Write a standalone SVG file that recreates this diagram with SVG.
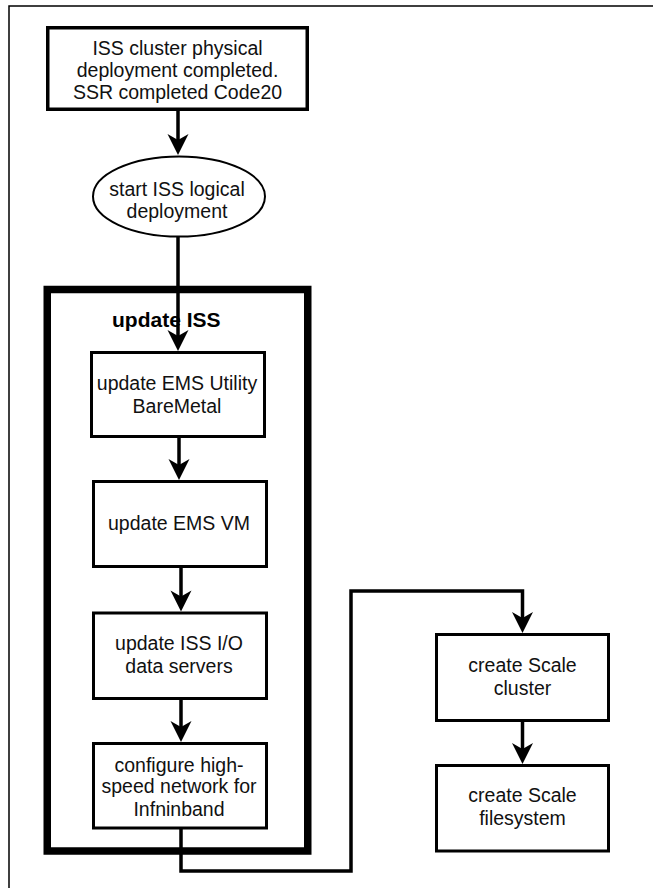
<svg xmlns="http://www.w3.org/2000/svg" width="653" height="888" viewBox="0 0 653 888">
  <style>
    .box { fill: #fff; stroke: #000; stroke-width: 3; }
    .t { font-family: "Liberation Sans", Arial, Helvetica, sans-serif; font-size: 19.5px; fill: #111; text-anchor: middle; }
    .tb { font-family: "Liberation Sans", Arial, Helvetica, sans-serif; font-size: 21px; font-weight: bold; fill: #000; }
    .conn { fill: none; stroke: #000; stroke-width: 3.5; }
  </style>
  <defs>
    <marker id="arr" markerUnits="userSpaceOnUse" viewBox="-22 -12 24 24" markerWidth="24" markerHeight="24" refX="-10" refY="0" orient="auto">
      <path d="M0,0 L-21,-10.5 L-15,0 L-21,10.5 Z" fill="#000"/>
    </marker>
  </defs>
  <rect x="0" y="0" width="653" height="888" fill="#fff"/>
  <g id="frame">
    <path d="M9,888 V6 H653" fill="none" stroke="#000" stroke-width="1.5"/>
  </g>
  <g id="container-update-iss">
    <rect x="47.25" y="289.5" width="260.5" height="561.5" fill="none" stroke="#000" stroke-width="7.5"/>
    <text class="tb" x="112" y="327">update ISS</text>
  </g>
  <g id="connectors">
    <path class="conn" d="M178,111 V145" marker-end="url(#arr)"/>
    <path class="conn" d="M178,237 V341" marker-end="url(#arr)"/>
    <path class="conn" d="M179,438 V470" marker-end="url(#arr)"/>
    <path class="conn" d="M181,568 V601.5" marker-end="url(#arr)"/>
    <path class="conn" d="M181,700 V732" marker-end="url(#arr)"/>
    <path class="conn" stroke-width="3" d="M181,829 V871 H351 V591 H522.5 V623" marker-end="url(#arr)"/>
    <path class="conn" d="M522.5,722 V754" marker-end="url(#arr)"/>
  </g>
  <g id="node-physical">
    <rect x="47.75" y="27.75" width="259.5" height="81.5" fill="#fff" stroke="#000" stroke-width="3.5"/>
    <text class="t" x="177.5" y="54.5">ISS cluster physical</text>
    <text class="t" x="177.5" y="76.5">deployment completed.</text>
    <text class="t" x="177.5" y="98.5">SSR completed Code20</text>
  </g>
  <g id="node-start">
    <ellipse cx="179" cy="196.5" rx="86" ry="40" fill="#fff" stroke="#000" stroke-width="2"/>
    <text class="t" x="177" y="196">start ISS logical</text>
    <text class="t" x="177" y="217.5">deployment</text>
  </g>
  <g id="node-ems-baremetal">
    <rect class="box" x="91.5" y="352.5" width="173" height="84"/>
    <text class="t" x="177" y="390">update EMS Utility</text>
    <text class="t" x="177" y="413">BareMetal</text>
  </g>
  <g id="node-ems-vm">
    <rect class="box" x="93.5" y="481.5" width="173" height="85"/>
    <text class="t" x="179" y="530">update EMS VM</text>
  </g>
  <g id="node-io-servers">
    <rect class="box" x="93.5" y="613" width="173" height="85.5"/>
    <text class="t" x="179" y="650">update ISS I/O</text>
    <text class="t" x="179" y="672.5">data servers</text>
  </g>
  <g id="node-infiniband">
    <rect class="box" x="93.5" y="743.5" width="173" height="84.5"/>
    <text class="t" x="179" y="771.5">configure high-</text>
    <text class="t" x="179" y="793">speed network for</text>
    <text class="t" x="179" y="816">Infninband</text>
  </g>
  <g id="node-scale-cluster">
    <rect class="box" x="436.5" y="634.5" width="172" height="86"/>
    <text class="t" x="522.5" y="672">create Scale</text>
    <text class="t" x="522.5" y="695">cluster</text>
  </g>
  <g id="node-scale-filesystem">
    <rect class="box" x="436.5" y="765.5" width="172" height="85.5"/>
    <text class="t" x="522.5" y="802">create Scale</text>
    <text class="t" x="522.5" y="825">filesystem</text>
  </g>
</svg>
